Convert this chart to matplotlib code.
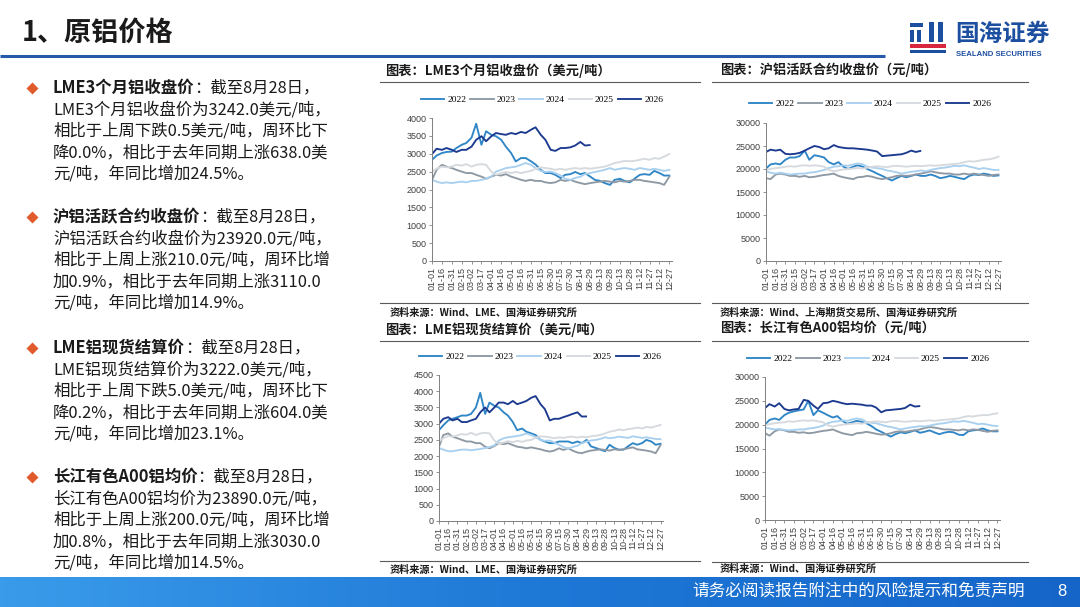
"""
原铝价格页：LME3个月、沪铝活跃合约、LME现货、长江有色A00 四张年度对比图 + 左侧文字要点
"""

import numpy as np
import pandas as pd
import matplotlib
matplotlib.use('Agg')
import matplotlib.pyplot as plt
from matplotlib.patches import Rectangle
from matplotlib.colors import LinearSegmentedColormap
from matplotlib.font_manager import FontProperties

plt.rcParams['font.family'] = ['Noto Sans CJK SC', 'DejaVu Sans']
plt.rcParams['axes.unicode_minus'] = False

# ========================================
# 数据（从图上读取，约每7天一个点）
# ========================================
TICK_LABELS = ['01-01', '01-16', '01-31', '02-15', '03-02', '03-17', '04-01', '04-16',
               '05-01', '05-16', '05-31', '06-15', '06-30', '07-15', '07-30', '08-14',
               '08-29', '09-13', '09-28', '10-13', '10-28', '11-12', '11-27', '12-12', '12-27']

SAMPLE_DATES = ['01-01', '01-08', '01-16', '01-23', '01-31', '02-07', '02-15', '02-22',
                '03-02', '03-09', '03-17', '03-24', '04-01', '04-08', '04-16', '04-23',
                '05-01', '05-08', '05-16', '05-23', '05-31', '06-07', '06-15', '06-22',
                '06-30', '07-07', '07-15', '07-22', '07-30', '08-06', '08-14', '08-21',
                '08-29', '09-05', '09-13', '09-20', '09-28', '10-05', '10-13', '10-20',
                '10-28', '11-04', '11-12', '11-19', '11-27', '12-04', '12-12', '12-19', '12-27']
# 2026 年数据截至 8月28日
DATES_2026 = SAMPLE_DATES[:32] + ['08-28']

YEARS = ['2022', '2023', '2024', '2025', '2026']

# LME3个月铝收盘价（美元/吨）
lme3m_2022 = [2830, 2950, 3020, 3050, 3060, 3160, 3250, 3300, 3450, 3840,
              3250, 3630, 3530, 3490, 3390, 3200, 3020, 2785, 2880, 2880,
              2790, 2700, 2550, 2460, 2460, 2410, 2320, 2410, 2430, 2490,
              2430, 2460, 2360, 2270, 2240, 2180, 2130, 2270, 2300, 2240,
              2200, 2300, 2410, 2430, 2410, 2520, 2460, 2390, 2390]
lme3m_2023 = [2270, 2550, 2690, 2640, 2600, 2550, 2500, 2460, 2460, 2410,
              2360, 2300, 2360, 2410, 2390, 2430, 2360, 2320, 2270, 2240,
              2270, 2240, 2240, 2200, 2180, 2200, 2270, 2240, 2270, 2220,
              2180, 2150, 2180, 2200, 2220, 2240, 2220, 2200, 2240, 2220,
              2240, 2270, 2270, 2240, 2220, 2200, 2180, 2130, 2360]
lme3m_2024 = [2270, 2220, 2180, 2200, 2180, 2200, 2220, 2200, 2240, 2240,
              2270, 2300, 2360, 2500, 2550, 2600, 2620, 2640, 2690, 2740,
              2690, 2600, 2520, 2490, 2500, 2460, 2390, 2300, 2270, 2320,
              2360, 2430, 2460, 2490, 2520, 2550, 2600, 2550, 2580, 2600,
              2580, 2550, 2600, 2580, 2550, 2580, 2550, 2520, 2550]
lme3m_2025 = [2500, 2580, 2640, 2620, 2640, 2690, 2670, 2710, 2640, 2690,
              2710, 2690, 2500, 2410, 2460, 2490, 2460, 2490, 2460, 2490,
              2520, 2580, 2620, 2600, 2580, 2550, 2580, 2550, 2580, 2600,
              2580, 2600, 2580, 2600, 2620, 2640, 2690, 2740, 2770, 2800,
              2790, 2800, 2830, 2860, 2830, 2880, 2860, 2920, 2990]
lme3m_2026 = [2990, 3140, 3110, 3160, 3110, 3050, 3110, 3110, 3200, 3390,
              3490, 3350, 3490, 3580, 3550, 3530, 3580, 3550, 3610, 3580,
              3670, 3740, 3530, 3390, 3110, 3080, 3160, 3160, 3180, 3230,
              3330, 3230, 3242]

# 沪铝活跃合约收盘价（元/吨）
shfe_2022 = [20100, 21000, 21200, 21000, 22000, 22500, 22500, 22800, 24000, 22000,
             23000, 22800, 22500, 21500, 21000, 21500, 20500, 20000, 20500, 20800,
             20500, 20000, 19500, 19000, 18500, 18000, 17500, 18000, 18500, 18200,
             18500, 18800, 18500, 18500, 18800, 18500, 18000, 18200, 18500, 18300,
             18000, 17800, 18500, 18800, 18700, 19000, 18800, 18500, 18600]
shfe_2023 = [18000, 17800, 18800, 19000, 18800, 18500, 18500, 18300, 18500, 18200,
             18300, 18500, 18700, 18800, 19000, 18500, 18200, 18000, 17800, 18200,
             18300, 18500, 18300, 18000, 17800, 18000, 18200, 18500, 18600, 18500,
             18600, 18800, 19000, 19200, 19500, 19300, 19100, 19000, 19000, 18800,
             18800, 19000, 18800, 19000, 18800, 18700, 18500, 18700, 18800]
shfe_2024 = [19500, 19200, 19000, 19200, 19000, 18800, 18900, 19000, 19000, 19200,
             19300, 19500, 19800, 20200, 20500, 20600, 20800, 20700, 21000, 21200,
             21000, 20500, 20300, 20200, 20000, 19700, 19500, 19300, 19000, 19200,
             19400, 19500, 19700, 19500, 19800, 20000, 20200, 20300, 20500, 20700,
             20600, 20800, 20500, 20300, 20000, 20200, 20000, 19800, 19800]
shfe_2025 = [19800, 20000, 20200, 20300, 20500, 20600, 20500, 20700, 20800, 20700,
             20800, 20700, 20500, 19800, 19500, 19700, 19900, 20000, 20100, 20200,
             20100, 20300, 20500, 20600, 20500, 20400, 20600, 20700, 20600, 20500,
             20600, 20700, 20600, 20700, 20800, 20700, 20800, 20900, 21000, 21100,
             21200, 21500, 21700, 21600, 21800, 22000, 22100, 22300, 22700]
shfe_2026 = [23700, 24200, 24000, 24200, 23300, 23200, 23300, 23500, 24000, 24500,
             25000, 24800, 24300, 24500, 25200, 24800, 24600, 24500, 24500, 24400,
             24300, 24200, 24000, 23800, 22800, 22900, 23000, 23100, 23200, 23500,
             24000, 23700, 23920]

# LME铝现货结算价（美元/吨）
lmecash_2022 = [2800, 2950, 3100, 3150, 3200, 3250, 3250, 3300, 3500, 3950,
                3300, 3650, 3550, 3500, 3350, 3250, 3050, 2800, 2850, 2750,
                2700, 2650, 2500, 2450, 2400, 2400, 2450, 2450, 2450, 2400,
                2450, 2400, 2500, 2300, 2250, 2200, 2150, 2350, 2250, 2200,
                2200, 2300, 2400, 2350, 2400, 2500, 2450, 2350, 2380]
lmecash_2023 = [2290, 2650, 2700, 2600, 2550, 2500, 2450, 2450, 2400, 2400,
                2290, 2240, 2310, 2400, 2370, 2400, 2340, 2290, 2270, 2240,
                2270, 2240, 2210, 2170, 2140, 2170, 2240, 2190, 2240, 2170,
                2110, 2090, 2140, 2170, 2190, 2210, 2190, 2170, 2210, 2190,
                2210, 2240, 2270, 2210, 2190, 2170, 2140, 2090, 2340]
lmecash_2024 = [2250, 2200, 2150, 2150, 2180, 2200, 2200, 2180, 2200, 2220,
                2250, 2280, 2330, 2480, 2550, 2580, 2600, 2620, 2650, 2700,
                2650, 2580, 2500, 2470, 2480, 2420, 2350, 2280, 2230, 2280,
                2320, 2400, 2450, 2480, 2500, 2530, 2580, 2550, 2570, 2600,
                2580, 2560, 2610, 2590, 2560, 2580, 2550, 2530, 2520]
lmecash_2025 = [2450, 2550, 2620, 2600, 2640, 2680, 2660, 2720, 2650, 2700,
                2720, 2700, 2480, 2380, 2420, 2460, 2430, 2470, 2440, 2480,
                2500, 2570, 2610, 2600, 2580, 2550, 2580, 2560, 2590, 2600,
                2570, 2600, 2580, 2610, 2630, 2650, 2700, 2750, 2780, 2820,
                2800, 2830, 2850, 2880, 2850, 2900, 2880, 2920, 2960]
lmecash_2026 = [3000, 3150, 3200, 3100, 3150, 3050, 3050, 3100, 3150, 3350,
                3500, 3350, 3500, 3650, 3650, 3600, 3700, 3600, 3650, 3700,
                3800, 3850, 3600, 3450, 3100, 3150, 3150, 3200, 3250, 3300,
                3350, 3220, 3222]

# 长江有色A00铝均价（元/吨）
cj_2022 = [20000, 21000, 21300, 21000, 22000, 22500, 22800, 23000, 23200, 25000,
           22000, 23000, 22500, 22000, 21500, 21800, 20800, 20200, 20500, 20800,
           20600, 20300, 19700, 19000, 18500, 18000, 17500, 18000, 18400, 18200,
           18500, 18800, 18300, 18500, 18800, 18400, 18000, 18300, 18500, 18400,
           17900, 17800, 18600, 18800, 18900, 19200, 18800, 18600, 18600]
cj_2023 = [18200, 17700, 18600, 19000, 18800, 18500, 18500, 18300, 18400, 18200,
           18300, 18500, 18700, 18800, 19000, 18600, 18200, 18000, 17800, 18200,
           18300, 18500, 18300, 18100, 17900, 18000, 18200, 18500, 18600, 18500,
           18700, 18800, 19000, 19300, 19500, 19400, 19200, 19000, 19000, 18900,
           18800, 19000, 18800, 19000, 18900, 18700, 18500, 18700, 18800]
cj_2024 = [19400, 19200, 19000, 19100, 18900, 18800, 18900, 19000, 19000, 19200,
           19300, 19500, 19800, 20300, 20600, 20700, 20900, 20800, 21100, 21300,
           21100, 20600, 20400, 20300, 20000, 19700, 19500, 19300, 19000, 19200,
           19400, 19500, 19700, 19600, 19800, 20000, 20200, 20300, 20500, 20700,
           20600, 20800, 20600, 20400, 20100, 20200, 20000, 19800, 19700]
cj_2025 = [19900, 20100, 20300, 20400, 20500, 20700, 20600, 20800, 20900, 20800,
           20900, 20700, 20500, 19900, 19600, 19800, 20000, 20100, 20200, 20300,
           20200, 20400, 20600, 20700, 20600, 20500, 20700, 20800, 20700, 20600,
           20700, 20800, 20700, 20800, 20900, 20800, 20900, 21000, 21100, 21200,
           21300, 21600, 21800, 21700, 21900, 22000, 22000, 22200, 22400]
cj_2026 = [23500, 24300, 23800, 24500, 23300, 23000, 23200, 23300, 25200, 25000,
           24000, 23300, 24500, 24600, 25000, 24800, 24500, 24300, 24400, 24300,
           24200, 24000, 24000, 23600, 22600, 23000, 23100, 23200, 23300, 23500,
           24200, 23800, 23890]

# 左侧文字要点
BULLETS = [
    ('LME3个月铝收盘价', '：截至8月28日，',
     ['LME3个月铝收盘价为3242.0美元/吨，',
      '相比于上周下跌0.5美元/吨，周环比下',
      '降0.0%，相比于去年同期上涨638.0美',
      '元/吨，年同比增加24.5%。']),
    ('沪铝活跃合约收盘价', '：截至8月28日，',
     ['沪铝活跃合约收盘价为23920.0元/吨，',
      '相比于上周上涨210.0元/吨，周环比增',
      '加0.9%，相比于去年同期上涨3110.0',
      '元/吨，年同比增加14.9%。']),
    ('LME铝现货结算价', '：截至8月28日，',
     ['LME铝现货结算价为3222.0美元/吨，',
      '相比于上周下跌5.0美元/吨，周环比下',
      '降0.2%，相比于去年同期上涨604.0美',
      '元/吨，年同比增加23.1%。']),
    ('长江有色A00铝均价', '：截至8月28日，',
     ['长江有色A00铝均价为23890.0元/吨，',
      '相比于上周上涨200.0元/吨，周环比增',
      '加0.8%，相比于去年同期上涨3030.0',
      '元/吨，年同比增加14.5%。']),
]

# ========================================
# 样式
# ========================================
COLORS = {'2022': '#2F86C6', '2023': '#8E99A4', '2024': '#A9D0EE',
          '2025': '#D6D9DD', '2026': '#1B3A8F'}
TEXT_C = '#1A1A1A'
BODY_FS = 11.8
W, H = 1080, 607


def to_days(dates):
    # 用非闰年把 MM-DD 转成年内第几天
    return (pd.to_datetime(['2021-' + d for d in dates]).dayofyear - 1).values


TICK_DAYS = to_days(TICK_LABELS)
X_FULL = to_days(SAMPLE_DATES)
X_2026 = to_days(DATES_2026)

fig = plt.figure(figsize=(10.8, 6.07), dpi=100)
bg = fig.add_axes([0, 0, 1, 1])
bg.axis('off')

# 标题与蓝线
bg.text(22, 33, '1、原铝价格', fontsize=19.5, fontweight='bold', color=TEXT_C,
        va='center', ha='left')
bg.plot([0, 885], [56, 56], color='#2659A8', lw=2.2, solid_capstyle='butt')

# 公司 logo（简化）
LOGO_B = '#1D4FA0'
for (x0, y0, w, h) in [(910, 23, 13, 4), (910, 30, 4, 12), (917, 30, 4, 12),
                       (929, 22, 5, 20), (938, 22, 5, 20), (910, 50, 36, 3)]:
    bg.add_patch(Rectangle((x0, y0), w, h, color=LOGO_B, lw=0))
bg.add_patch(Rectangle((910, 44), 36, 4, color='#D7263D', lw=0))
bg.text(955, 34, '国海证券', fontsize=17, fontweight='bold', color=LOGO_B,
        va='center', ha='left')
bg.text(956, 54, 'SEALAND SECURITIES', fontsize=5.6, fontweight='bold', color=LOGO_B,
        va='center', ha='left', family='Liberation Sans')

# 底部蓝色条
band_cmap = LinearSegmentedColormap.from_list('band', ['#3A9BEA', '#1E78D6', '#1565C8'])
grad = np.linspace(0, 1, 256).reshape(1, -1)
bg.imshow(grad, extent=(0, W, 607, 577), aspect='auto', cmap=band_cmap, zorder=0)
bg.text(1025, 592, '请务必阅读报告附注中的风险提示和免责声明', fontsize=12, color='white',
        va='center', ha='right')
bg.text(1062, 592, '8', fontsize=12, color='white', va='center', ha='center',
        family='Liberation Sans')

# 左侧文字
BLOCK_TOPS = [88, 217, 348, 477]
LINE_GAP = 21.6
for (head, tail, lines), y0 in zip(BULLETS, BLOCK_TOPS):
    bg.plot(32, y0, marker='D', ms=6.5, color='#E05A2B', mec='none')
    t = bg.text(53, y0, head, fontsize=BODY_FS, fontweight='bold', color=TEXT_C,
                va='center', ha='left')
    bg.annotate(tail, xy=(1, 0.5), xycoords=t, fontsize=BODY_FS, color=TEXT_C,
                va='center', ha='left')
    for i, line in enumerate(lines):
        bg.text(53, y0 + (i + 1) * LINE_GAP, line, fontsize=BODY_FS, color=TEXT_C,
                va='center', ha='left')

bg.set_xlim(0, W)
bg.set_ylim(H, 0)

# ========================================
# 四张图
# ========================================
TICK_FONT = FontProperties(family='Liberation Sans', size=6.5)
LEG_FONT = FontProperties(family='Liberation Serif', size=6.8)


def draw_chart(box, series, ymax, ystep, title, title_xy, source, source_xy,
               rule_x, rule_y, legend_xy):
    left, top, right, bottom = box
    ax = fig.add_axes([left / W, 1 - bottom / H, (right - left) / W, (bottom - top) / H])
    for year, vals in zip(YEARS, series):
        x = X_2026 if year == '2026' else X_FULL
        ax.plot(x, vals, color=COLORS[year], lw=1.35, label=year)
    ax.set_xlim(0, 364)
    ax.set_ylim(0, ymax)
    ax.set_yticks(np.arange(0, ymax + 1, ystep))
    ax.set_xticks(TICK_DAYS)
    ax.set_xticklabels(TICK_LABELS, rotation=90)
    for lbl in ax.get_xticklabels() + ax.get_yticklabels():
        lbl.set_fontproperties(TICK_FONT)
        lbl.set_color('#404040')
    ax.tick_params(length=2.5, width=0.6, color='#808080', pad=1.5)
    for s in ['top', 'right']:
        ax.spines[s].set_visible(False)
    for s in ['left', 'bottom']:
        ax.spines[s].set_color('#808080')
        ax.spines[s].set_linewidth(0.7)
    ax.patch.set_alpha(0)
    ax.legend(ncol=5, loc='center', bbox_to_anchor=(legend_xy[0] / W, 1 - legend_xy[1] / H),
              bbox_transform=fig.transFigure, frameon=False, prop=LEG_FONT,
              handlelength=2.5, handletextpad=0.3, columnspacing=0.4, borderaxespad=0)

    bg.text(title_xy[0], title_xy[1], title, fontsize=9.5, fontweight='bold',
            color=TEXT_C, va='center', ha='left')
    bg.text(source_xy[0], source_xy[1], source, fontsize=7.3, fontweight='bold',
            color=TEXT_C, va='center', ha='left')
    for yy in rule_y:
        bg.plot(rule_x, [yy, yy], color='#5A5A5A', lw=0.8)
    return ax


draw_chart((432, 118, 672, 261),
           [lme3m_2022, lme3m_2023, lme3m_2024, lme3m_2025, lme3m_2026],
           4000, 500, '图表：LME3个月铝收盘价（美元/吨）', (385, 71),
           '资料来源：Wind、LME、国海证券研究所', (390, 313),
           [380, 700], [82, 303], (542, 100))

draw_chart((766, 123, 1001, 261),
           [shfe_2022, shfe_2023, shfe_2024, shfe_2025, shfe_2026],
           30000, 5000, '图表：沪铝活跃合约收盘价（元/吨）', (720, 70),
           '资料来源：Wind、上海期货交易所、国海证券研究所', (720, 313),
           [712, 1028], [82, 303], (870, 104))

draw_chart((439, 375, 663, 521),
           [lmecash_2022, lmecash_2023, lmecash_2024, lmecash_2025, lmecash_2026],
           4500, 500, '图表：LME铝现货结算价（美元/吨）', (385, 330),
           '资料来源：Wind、LME、国海证券研究所', (390, 570),
           [380, 700], [341, 561], (540, 357))

draw_chart((765, 377, 1000, 520),
           [cj_2022, cj_2023, cj_2024, cj_2025, cj_2026],
           30000, 5000, '图表：长江有色A00铝均价（元/吨）', (720, 328),
           '资料来源：Wind、国海证券研究所', (720, 569),
           [712, 1028], [341, 562], (868, 359))

fig.savefig('out.png', dpi=100)
plt.close(fig)
